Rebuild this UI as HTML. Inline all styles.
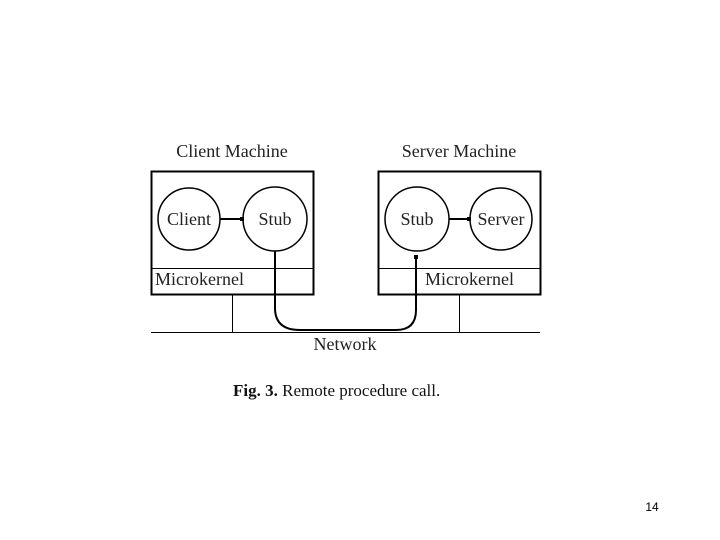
<!DOCTYPE html>
<html><head><style>
body{margin:0;background:#fff;}
svg{display:block;font-family:"Liberation Serif",serif;}
</style></head><body>
<svg width="720" height="540" viewBox="0 0 720 540">
<g fill="none" stroke="#000">
<rect x="151.5" y="171.5" width="162" height="123" stroke-width="2"/>
<rect x="378.5" y="171.5" width="162" height="123" stroke-width="2"/>
<line x1="151" y1="268.5" x2="313" y2="268.5" stroke-width="1"/>
<line x1="378" y1="268.5" x2="540" y2="268.5" stroke-width="1"/>
<line x1="275.5" y1="268" x2="275.5" y2="294"/>
<line x1="416.5" y1="268" x2="416.5" y2="294"/>
<circle cx="189" cy="219" r="31" stroke-width="1.5"/>
<circle cx="275" cy="219" r="32" stroke-width="1.5"/>
<circle cx="417" cy="219" r="32" stroke-width="1.5"/>
<circle cx="501" cy="219" r="31" stroke-width="1.5"/>
<line x1="220" y1="219" x2="243" y2="219" stroke-width="2"/>
<line x1="449" y1="219" x2="470" y2="219" stroke-width="2"/>
<line x1="151" y1="332.5" x2="540" y2="332.5"/>
<line x1="232.5" y1="295" x2="232.5" y2="332"/>
<line x1="459.5" y1="295" x2="459.5" y2="332"/>
<path d="M275 251 V308 Q275 330 300 330 H396 Q416 330 416 310 V257" stroke-width="2"/>
</g>
<rect x="240" y="217" width="4" height="4"/>
<rect x="467" y="217" width="4" height="4"/>
<rect x="414" y="255" width="4" height="4"/>
<g font-size="18" fill="#222">
<text x="232" y="157" text-anchor="middle">Client Machine</text>
<text x="459" y="157" text-anchor="middle">Server Machine</text>
<text x="189" y="225" text-anchor="middle">Client</text>
<text x="275" y="225" text-anchor="middle">Stub</text>
<text x="417" y="225" text-anchor="middle">Stub</text>
<text x="501" y="225" text-anchor="middle">Server</text>
<text x="155" y="285">Microkernel</text>
<text x="425" y="285">Microkernel</text>
<text x="345" y="350" text-anchor="middle">Network</text>
</g>
<text x="233" y="396" font-size="17" fill="#111"><tspan font-weight="bold">Fig. 3.</tspan> Remote procedure call.</text>
<text x="652" y="511" font-size="12" font-family="Liberation Sans,sans-serif" text-anchor="middle">14</text>
</svg>
</body></html>
